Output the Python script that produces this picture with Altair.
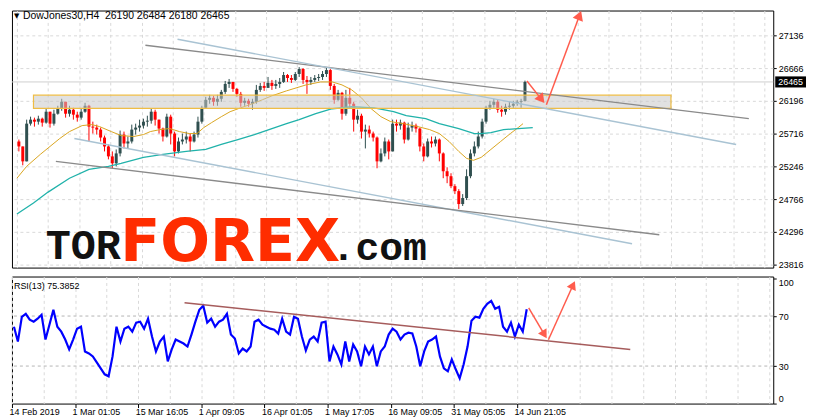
import altair as alt
import pandas as pd

# ---------------- data ----------------
# Dow Jones 30, H4 candles (one sampled candle every 4 H4 bars)
candle_bars = list(range(5, 526, 4))
first_open = 25603
closes = [25531, 25315, 25861, 25919, 25890, 25933, 25876, 26034, 25861, 26005,
          26077, 26178, 26005, 26063, 25991, 25948, 26034, 26120, 25818, 25804,
          25775, 25660, 25531, 25387, 25287, 25430, 25703, 25574, 25603, 25775,
          25804, 25833, 25890, 25904, 26034, 25919, 25790, 25675, 25962, 25718,
          25459, 25603, 25631, 25675, 25603, 25703, 25890, 26091, 26206, 26235,
          26178, 26221, 26321, 26436, 26465, 26364, 26292, 26163, 26192, 26149,
          26178, 26350, 26407, 26379, 26451, 26407, 26436, 26465, 26565, 26522,
          26494, 26580, 26652, 26494, 26465, 26494, 26522, 26537, 26580, 26637,
          26407, 26206, 26307, 26005, 26235, 26149, 25919, 25976, 25746, 25775,
          25718, 25660, 25315, 25430, 25603, 25459, 25861, 25833, 25876, 25631,
          25804, 25833, 25790, 25531, 25387, 25603, 25574, 25631, 25430, 25172,
          25100, 24956, 24884, 24697, 24784, 25100, 25430, 25531, 25675, 25890,
          26091, 26134, 26178, 26063, 26034, 26106, 26120, 26149, 26178, 26190,
          26465]
highs = [25631, 25531, 25919, 25962, 25948, 25976, 25948, 26077, 26034, 26063,
         26120, 26221, 26178, 26120, 26091, 26034, 26077, 26163, 26134, 25890,
         25847, 25804, 25689, 25560, 25459, 25488, 25761, 25746, 25675, 25847,
         25861, 25919, 25933, 25976, 26077, 26063, 25919, 25804, 26005, 25991,
         25746, 25660, 25718, 25746, 25718, 25746, 25962, 26120, 26249, 26278,
         26264, 26278, 26350, 26479, 26508, 26465, 26379, 26321, 26235, 26221,
         26221, 26422, 26451, 26465, 26537, 26494, 26494, 26522, 26609, 26580,
         26565, 26609, 26680, 26666, 26551, 26537, 26565, 26580, 26623, 26680,
         26652, 26436, 26350, 26321, 26350, 26379, 26178, 26063, 26005, 25847,
         25833, 25746, 25675, 25502, 25660, 25631, 25919, 25919, 25919, 25890,
         25876, 25890, 25861, 25804, 25574, 25646, 25675, 25675, 25646, 25445,
         25229, 25143, 24985, 24913, 24841, 25200, 25488, 25603, 25746, 25933,
         26120, 26192, 26221, 26206, 26120, 26149, 26178, 26192, 26206, 26221,
         26484]
lows = [25459, 25258, 25315, 25833, 25818, 25847, 25818, 25861, 25804, 25833,
        25991, 26048, 25948, 25962, 25919, 25890, 25919, 26019, 25603, 25718,
        25703, 25603, 25459, 25344, 25215, 25243, 25387, 25502, 25502, 25574,
        25703, 25746, 25790, 25818, 25861, 25833, 25718, 25603, 25660, 25560,
        25387, 25430, 25560, 25574, 25459, 25588, 25660, 25861, 26077, 26149,
        26120, 26120, 26178, 26292, 26379, 26321, 26249, 26106, 26120, 26106,
        26063, 26149, 26321, 26336, 26379, 26350, 26364, 26379, 26451, 26465,
        26451, 26479, 26537, 26436, 26292, 26422, 26465, 26479, 26494, 26537,
        26350, 26149, 26192, 25919, 25976, 26077, 25746, 25861, 25646, 25502,
        25660, 25603, 25215, 25301, 25387, 25344, 25459, 25746, 25775, 25574,
        25617, 25746, 25732, 25459, 25315, 25373, 25516, 25531, 25315, 25071,
        24999, 24927, 24841, 24626, 24669, 24755, 25071, 25387, 25502, 25646,
        25861, 26063, 26091, 26019, 25962, 25991, 26063, 26091, 26120, 26091,
        26180]

# moving averages
orange_bars = [3, 13, 27, 37, 47, 57, 70, 80, 88, 100, 110, 123, 133, 140, 150, 160, 170,
               180, 188, 195, 203, 213, 222, 233, 245, 255, 265, 280, 300, 315, 327, 337,
               347, 357, 367, 377, 387, 400, 415, 427, 437, 447, 457, 465, 472, 480, 490,
               500, 510, 518, 523]
orange_vals = [25071, 25243, 25416, 25531, 25646, 25746, 25833, 25847, 25818, 25746,
               25689, 25675, 25703, 25746, 25775, 25790, 25746, 25718, 25718, 25804,
               25876, 25962, 26034, 26091, 26149, 26206, 26264, 26336, 26422, 26465,
               26465, 26422, 26350, 26235, 26077, 25962, 25890, 25861, 25818, 25775,
               25718, 25603, 25459, 25358, 25330, 25373, 25488, 25603, 25718, 25804,
               25861]
teal_bars = [3, 20, 35, 57, 77, 97, 110, 133, 153, 177, 197, 213, 230, 247, 265, 280,
             293, 310, 327, 347, 370, 390, 403, 423, 437, 457, 473, 480, 490, 503, 518, 533]
teal_vals = [24554, 24712, 24870, 25071, 25200, 25243, 25287, 25373, 25416, 25459,
             25488, 25560, 25631, 25703, 25790, 25861, 25919, 26005, 26077, 26106,
             26091, 26034, 25976, 25933, 25861, 25790, 25718, 25718, 25732, 25775,
             25790, 25804]

# channel lines (start bar, start price, end bar, end price)
line_x1 = [135, 168, 62, 43]
line_p1 = [26997, 27083, 25646, 25315]
line_x2 = [755, 742, 635, 663]
line_p2 = [25933, 25560, 24123, 24252]
line_colors = ["#8a8a8a", "#a9c3d3", "#a9c3d3", "#8a8a8a"]

# resistance zone
zone_x = [20, 675]
zone_p = [26081, 26274]

# forecast arrows on the price panel
arr_x1 = [527, 547]
arr_p1 = [26479, 26134]
arr_x2 = [542, 581]
arr_p2 = [26213, 27428]
arr_angle = [141, 21]

# RSI(13)
rsi_vals = [61.5, 49.6, 69.4, 71.8, 67.1, 65.5, 67.9, 71.0, 51.2, 63.1,
            75.0, 61.5, 57.5, 51.2, 43.3, 51.2, 59.9, 61.5, 41.7, 40.1,
            37.7, 32.9, 28.2, 23.4, 21.8, 37.7, 61.5, 49.6, 59.9, 61.5,
            57.5, 64.7, 65.5, 59.9, 67.9, 53.6, 41.7, 49.6, 53.6, 33.7,
            43.3, 51.2, 49.6, 48.0, 45.6, 55.2, 65.5, 75.0, 78.2, 64.7,
            67.9, 61.5, 65.5, 67.1, 71.8, 55.2, 52.0, 40.1, 44.0, 41.7,
            45.6, 65.5, 67.1, 63.1, 61.5, 59.9, 59.1, 56.0, 67.9, 57.5,
            55.2, 69.4, 67.9, 53.6, 42.5, 51.2, 53.6, 49.6, 64.7, 65.5,
            33.7, 45.6, 39.3, 31.3, 49.6, 33.7, 47.2, 41.7, 29.8, 45.6,
            39.3, 45.6, 29.8, 41.7, 45.6, 55.2, 59.9, 57.5, 51.2, 55.2,
            56.7, 56.0, 45.6, 29.8, 41.7, 49.6, 51.2, 53.6, 37.7, 28.2,
            25.8, 35.3, 27.4, 20.2, 31.3, 45.6, 66.3, 69.4, 68.7, 75.8,
            79.8, 82.1, 75.8, 77.4, 61.5, 57.5, 64.7, 53.6, 63.1, 57.5,
            75.3852]
rsi_levels = [30, 70]
rsi_trend = {"x1": [178], "r1": [80.6], "x2": [630], "r2": [43.3]}
rarr_x1 = [527, 547]
rarr_r1 = [76.6, 51.0]
rarr_x2 = [543, 572]
rarr_r2 = [55.2, 94.8]
rarr_angle = [149, 25]

# axes
price_ticks = [27136, 26666, 26196, 25716, 25246, 24766, 24296, 23816]
rsi_ticks = [0, 30, 70, 100]
grid_bars = list(range(3, 772, 32))
date_bars = [3, 67, 131, 195, 259, 323, 387, 451, 515]
date_labels = ["14 Feb 2019", "1 Mar 01:05", "15 Mar 16:05", "1 Apr 09:05",
               "16 Apr 01:05", "1 May 17:05", "16 May 09:05", "31 May 05:05",
               "14 Jun 21:05"]
title_text = "DowJones30,H4\u00a0 26190 26484 26180 26465"
rsi_text = "RSI(13) 75.3852"

# ---------------- styling ----------------
FONT = "Liberation Sans"
GRID = "#d9d9d9"
BULL = "#2f4f4f"
BEAR = "#ff0000"
ARROW = "#ff5c4d"
W, H_MAIN, H_RSI = 767, 259, 128

xs = alt.Scale(domain=[3, 775], nice=False, zero=False)
ys = alt.Scale(domain=[23777, 27499], nice=False, zero=False)
rs = alt.Scale(domain=[0, 101.6], nice=False, zero=False)

main_xaxis = alt.Axis(values=grid_bars, labels=False, ticks=False, domain=False,
                      grid=True, gridColor=GRID, gridDash=[3, 3], title=None)
main_yaxis = alt.Axis(values=price_ticks, orient="right", format="d", grid=True,
                      gridColor=GRID, gridDash=[3, 3], tickSize=3, labelPadding=2,
                      domain=False, title=None, labelOverlap=False)

label_expr = " : ".join(f"datum.value == {b} ? '{l}'" for b, l in zip(date_bars, date_labels)) + " : ''"
tick_test = "indexof([" + ",".join(str(b) for b in date_bars) + "], datum.value) >= 0"
rsi_xaxis = alt.Axis(values=grid_bars, grid=True, gridColor=GRID, gridDash=[3, 3],
                     labelExpr=label_expr, labelAlign="left", labelBaseline="top",
                     labelPadding=0, labelOffset=-3, labelFlush=False, labelOverlap=False,
                     tickSize=4, tickOpacity={"condition": {"test": tick_test, "value": 1}, "value": 0},
                     domain=False, title=None)
rsi_yaxis = alt.Axis(values=rsi_ticks, orient="right", format="d", grid=False,
                     tickSize=3, labelPadding=2, domain=False, title=None,
                     labelFlush=5, labelOverlap=False)


def X(f, axis=main_xaxis):
    return alt.X(f"{f}:Q", scale=xs, axis=axis, title=None)


def Y(f):
    return alt.Y(f"{f}:Q", scale=ys, axis=main_yaxis, title=None)


def R(f):
    return alt.Y(f"{f}:Q", scale=rs, axis=rsi_yaxis, title=None)


# ---------------- main panel ----------------
opens = [first_open] + closes[:-1]
candles = pd.DataFrame({"bar": candle_bars, "open": opens, "high": highs,
                        "low": lows, "close": closes})
candles["dir"] = ["up" if c >= o else "down" for o, c in zip(opens, closes)]
ccolor = alt.Color("dir:N", scale=alt.Scale(domain=["up", "down"], range=[BULL, BEAR]), legend=None)

bid = pd.DataFrame({"price": [closes[-1]], "label": [str(closes[-1])]})
bid_line = alt.Chart(bid).mark_rule(color="#cfcfcf", strokeWidth=1).encode(y=Y("price"))

wicks = alt.Chart(candles).mark_rule(strokeWidth=1).encode(x=X("bar"), y=Y("low"), y2="high", color=ccolor)
bodies = alt.Chart(candles).mark_bar(size=3).encode(x=X("bar"), y=Y("open"), y2="close", color=ccolor)

ma_orange = alt.Chart(pd.DataFrame({"bar": orange_bars, "price": orange_vals})).mark_line(
    color="#daa520", strokeWidth=1).encode(x=X("bar"), y=Y("price"))
ma_teal = alt.Chart(pd.DataFrame({"bar": teal_bars, "price": teal_vals})).mark_line(
    color="#20b2aa", strokeWidth=1.3).encode(x=X("bar"), y=Y("price"))

zone = alt.Chart(pd.DataFrame({"x1": [zone_x[0]], "x2": [zone_x[1]], "p1": [zone_p[0]], "p2": [zone_p[1]]})).mark_rect(
    fill="#c8c8c8", fillOpacity=0.55, stroke="#efbd45", strokeWidth=1.2).encode(
    x=X("x1"), x2="x2", y=Y("p1"), y2="p2")

chan = alt.Chart(pd.DataFrame({"x1": line_x1, "p1": line_p1, "x2": line_x2, "p2": line_p2, "c": line_colors})).mark_rule(
    strokeWidth=1.4).encode(x=X("x1"), x2="x2", y=Y("p1"), y2="p2", color=alt.Color("c:N", scale=None))

arr_df = pd.DataFrame({"x1": arr_x1, "p1": arr_p1, "x2": arr_x2, "p2": arr_p2, "a": arr_angle})
arrows = alt.Chart(arr_df).mark_rule(color=ARROW, strokeWidth=1.5).encode(x=X("x1"), x2="x2", y=Y("p1"), y2="p2")
heads = alt.Chart(arr_df).mark_point(shape="triangle-up", filled=True, color=ARROW, size=120, opacity=1).encode(
    x=X("x2"), y=Y("p2"), angle=alt.Angle("a:Q", scale=None))

BOX = "M-1,-0.36L1,-0.36L1,0.36L-1,0.36Z"
bid_box = alt.Chart(bid).mark_point(shape=BOX, filled=True, color="black", size=961, opacity=1).encode(
    x=alt.value(784.5), y=Y("price"))
bid_txt = alt.Chart(bid).mark_text(font=FONT, fontSize=9, color="white", align="center", baseline="middle").encode(
    x=alt.value(784.5), y=Y("price"), text="label:N")

one = pd.DataFrame({"t": [title_text]})
tri = alt.Chart(pd.DataFrame({"t": ["\u25bc"]})).mark_text(font="DejaVu Sans", fontSize=7, align="left",
                                                         baseline="middle", color="black").encode(
    x=alt.value(2), y=alt.value(6), text="t:N")
title = alt.Chart(one).mark_text(font=FONT, fontSize=10.5, align="left", baseline="middle", color="black").encode(
    x=alt.value(11), y=alt.value(6), text="t:N")

logo_tor = alt.Chart(pd.DataFrame({"t": ["TOR"]})).mark_text(
    font="Liberation Mono", fontSize=42, fontWeight="bold", align="left", baseline="alphabetic", color="#111111").encode(
    x=alt.value(34), y=alt.value(250), text="t:N")
logo_forex = alt.Chart(pd.DataFrame({"t": ["FOREX"]})).mark_text(
    font="DejaVu Sans", fontSize=59, fontWeight="bold", align="left", baseline="alphabetic", color="#ff2d00").encode(
    x=alt.value(109), y=alt.value(252), text="t:N")
logo_com = alt.Chart(pd.DataFrame({"t": [".com"]})).mark_text(
    font="Liberation Mono", fontSize=40, fontWeight="bold", align="left", baseline="alphabetic", color="#111111").encode(
    x=alt.value(322), y=alt.value(251), text="t:N")

main = alt.layer(bid_line, wicks, bodies, ma_orange, ma_teal, zone, chan, arrows, heads,
                 logo_tor, logo_forex, logo_com, tri, title, bid_box, bid_txt).properties(
    width=W, height=H_MAIN)

# ---------------- RSI panel ----------------
rsi_df = pd.DataFrame({"bar": candle_bars, "rsi": rsi_vals})
levels = alt.Chart(pd.DataFrame({"v": rsi_levels})).mark_rule(color="#b4b4b4", strokeDash=[3, 3]).encode(
    y=R("v"))
rsi_line = alt.Chart(rsi_df).mark_line(color="#0000ff", strokeWidth=2.2).encode(
    x=X("bar", rsi_xaxis), y=R("rsi"))
rtrend = alt.Chart(pd.DataFrame(rsi_trend)).mark_rule(color="#a65c5c", strokeWidth=1.5).encode(
    x=X("x1", rsi_xaxis), x2="x2", y=R("r1"), y2="r2")
rarr_df = pd.DataFrame({"x1": rarr_x1, "r1": rarr_r1, "x2": rarr_x2, "r2": rarr_r2, "a": rarr_angle})
rarrows = alt.Chart(rarr_df).mark_rule(color=ARROW, strokeWidth=1.5).encode(
    x=X("x1", rsi_xaxis), x2="x2", y=R("r1"), y2="r2")
rheads = alt.Chart(rarr_df).mark_point(shape="triangle-up", filled=True, color=ARROW, size=100, opacity=1).encode(
    x=X("x2", rsi_xaxis), y=R("r2"), angle=alt.Angle("a:Q", scale=None))
rsi_title = alt.Chart(pd.DataFrame({"t": [rsi_text]})).mark_text(
    font=FONT, fontSize=9, align="left", baseline="middle", color="black").encode(
    x=alt.value(2), y=alt.value(10), text="t:N")

rsi = alt.layer(levels, rsi_line, rtrend, rarrows, rheads, rsi_title).properties(width=W, height=H_RSI)

chart = alt.vconcat(main, rsi, spacing=2).properties(padding=0).configure_view(
    stroke="black", strokeWidth=1).configure_axis(
    labelFont=FONT, labelFontSize=9, labelColor="black", tickColor="black")

chart.save("out.html", embed_options={"renderer": "svg", "actions": False})
